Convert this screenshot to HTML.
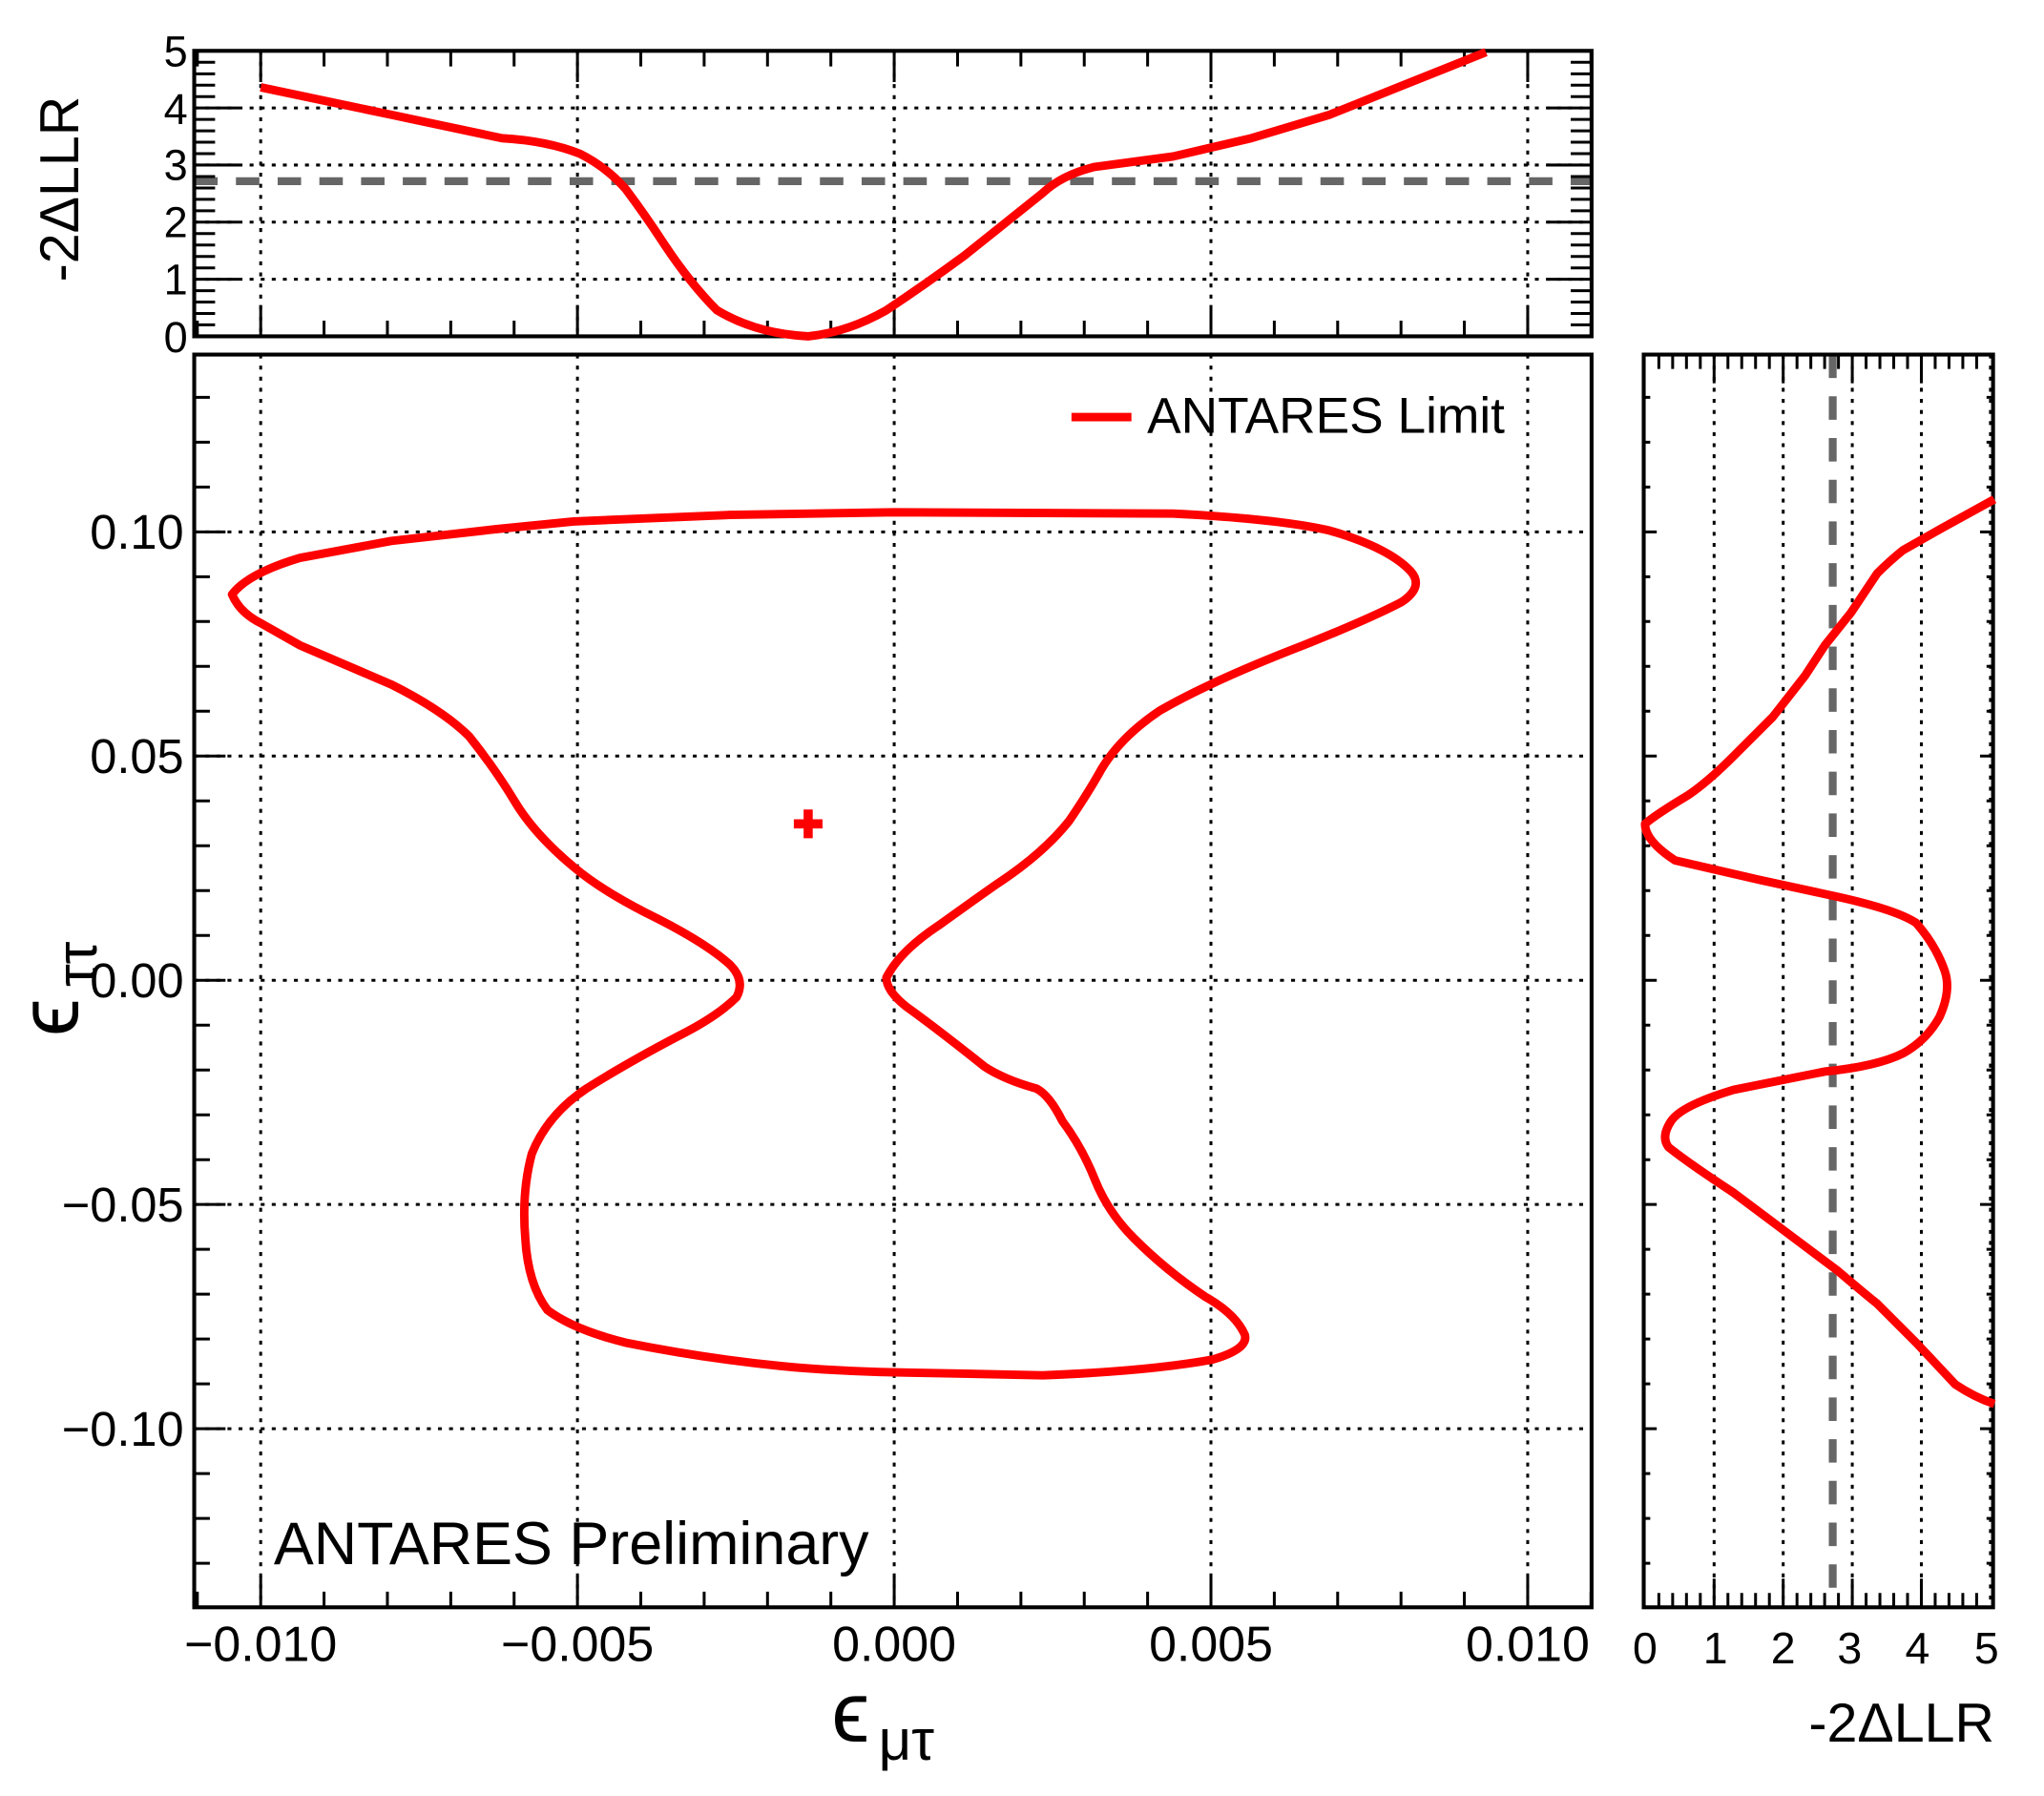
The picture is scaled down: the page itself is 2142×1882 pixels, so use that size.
<!DOCTYPE html>
<html><head><meta charset="utf-8"><style>
html,body{margin:0;padding:0;background:#fff;}
svg{display:block;}
text{font-family:"Liberation Sans",sans-serif;fill:#000;}
</style></head><body>
<svg width="2142" height="1882" viewBox="0 0 2142 1882" xmlns="http://www.w3.org/2000/svg">
<g transform="scale(1.366)">
<!-- ========== TOP PANEL ========== -->
<g stroke="#000" stroke-width="2.2" stroke-dasharray="3,5.5" fill="none">
<path d="M149 214.2H1221M149 170.4H1221M149 126.6H1221M149 82.8H1221"/>
<path d="M200 39V258M443 39V258M686 39V258M929 39V258M1172 39V258"/>
</g>
<line x1="149" y1="139" x2="1221" y2="139" stroke="#666" stroke-width="6" stroke-dasharray="18,14"/>
<g stroke="#000" stroke-width="2.2" fill="none">
<path d="M151.4 258v-12M200 258v-24M248.6 258v-12M297.2 258v-12M345.8 258v-12M394.4 258v-12M443 258v-24M491.6 258v-12M540.2 258v-12M588.8 258v-12M637.4 258v-12M686 258v-24M734.6 258v-12M783.2 258v-12M831.8 258v-12M880.4 258v-12M929 258v-24M977.6 258v-12M1026.2 258v-12M1074.8 258v-12M1123.4 258v-12M1172 258v-24M1220.6 258v-12"/>
<path d="M151.4 39v12M200 39v24M248.6 39v12M297.2 39v12M345.8 39v12M394.4 39v12M443 39v24M491.6 39v12M540.2 39v12M588.8 39v12M637.4 39v12M686 39v24M734.6 39v12M783.2 39v12M831.8 39v12M880.4 39v12M929 39v24M977.6 39v12M1026.2 39v12M1074.8 39v12M1123.4 39v12M1172 39v24M1220.6 39v12"/>
<path d="M149 249.2h16M149 240.5h16M149 231.7h16M149 223h16M149 214.2h34M149 205.5h16M149 196.7h16M149 188h16M149 179.2h16M149 170.4h34M149 161.7h16M149 152.9h16M149 144.2h16M149 135.4h16M149 126.6h34M149 117.9h16M149 109.1h16M149 100.4h16M149 91.6h16M149 82.8h34M149 74.1h16M149 65.3h16M149 56.6h16M149 47.8h16"/>
<path d="M1221 249.2h-16M1221 240.5h-16M1221 231.7h-16M1221 223h-16M1221 214.2h-34M1221 205.5h-16M1221 196.7h-16M1221 188h-16M1221 179.2h-16M1221 170.4h-34M1221 161.7h-16M1221 152.9h-16M1221 144.2h-16M1221 135.4h-16M1221 126.6h-34M1221 117.9h-16M1221 109.1h-16M1221 100.4h-16M1221 91.6h-16M1221 82.8h-34M1221 74.1h-16M1221 65.3h-16M1221 56.6h-16M1221 47.8h-16"/>
</g>
<rect x="149" y="39" width="1072" height="219" fill="none" stroke="#000" stroke-width="3"/>
<path d="M200 67 L300 88 L385 106 Q420 108 445 118 Q465 128 480 145 Q495 165 510 188 Q530 218 550 238 Q580 256 620 258 Q650 255 680 238 Q710 218 740 196 Q770 172 800 148 Q815 134 840 128 L900 120 L960 106 L1020 88 L1080 64 L1140 40" fill="none" stroke="#f00" stroke-width="6.5" stroke-linejoin="round"/>
<g font-size="33" text-anchor="end">
<text x="144" y="270">0</text><text x="144" y="226">1</text><text x="144" y="182">2</text><text x="144" y="138">3</text><text x="144" y="95">4</text><text x="144" y="51">5</text>
</g>
<text transform="translate(60,145) rotate(-90)" font-size="42" text-anchor="middle">-2ΔLLR</text>

<!-- ========== MAIN PANEL ========== -->
<g stroke="#000" stroke-width="2.2" stroke-dasharray="3,5.5" fill="none">
<path d="M200 272V1233M443 272V1233M686 272V1233M929 272V1233M1172 272V1233"/>
<path d="M149 408H1221M149 580H1221M149 752H1221M149 924H1221M149 1096H1221"/>
</g>
<g stroke="#000" stroke-width="2.2" fill="none">
<path d="M151.4 1233v-12M200 1233v-24M248.6 1233v-12M297.2 1233v-12M345.8 1233v-12M394.4 1233v-12M443 1233v-24M491.6 1233v-12M540.2 1233v-12M588.8 1233v-12M637.4 1233v-12M686 1233v-24M734.6 1233v-12M783.2 1233v-12M831.8 1233v-12M880.4 1233v-12M929 1233v-24M977.6 1233v-12M1026.2 1233v-12M1074.8 1233v-12M1123.4 1233v-12M1172 1233v-24M1220.6 1233v-12"/>
<path d="M149 1199.2h12M149 1164.8h12M149 1130.4h12M149 1096h24M149 1061.6h12M149 1027.2h12M149 992.8h12M149 958.4h12M149 924h24M149 889.6h12M149 855.2h12M149 820.8h12M149 786.4h12M149 752h24M149 717.6h12M149 683.2h12M149 648.8h12M149 614.4h12M149 580h24M149 545.6h12M149 511.2h12M149 476.8h12M149 442.4h12M149 408h24M149 373.6h12M149 339.2h12M149 304.8h12"/>
</g>
<rect x="149" y="272" width="1072" height="961" fill="none" stroke="#000" stroke-width="3"/>
<path d="M686 393 L560 395 L440 400 L380 406 L300 415 L230 428 Q190 440 178 456 Q184 470 200 478 L230 495 L300 525 Q340 545 360 565 Q380 590 395 615 Q410 640 440 665 Q460 682 495 700 Q540 722 560 740 Q572 752 565 765 Q550 780 520 795 Q480 816 450 835 Q420 855 408 885 Q400 915 403 950 Q405 985 420 1005 Q440 1020 480 1030 Q540 1042 600 1048 Q640 1052 700 1053 L800 1055 Q880 1052 930 1043 Q958 1035 955 1024 Q948 1008 925 995 Q895 975 870 950 Q850 930 840 905 Q830 880 815 860 Q805 840 795 835 Q770 828 755 818 Q720 790 695 772 Q680 760 680 750 Q690 730 720 710 Q745 692 765 678 Q800 655 820 630 Q835 608 845 590 Q860 565 890 545 Q930 522 1000 495 Q1050 475 1075 462 Q1093 450 1082 438 Q1065 420 1020 407 Q980 398 900 394 L686 393 Z" fill="none" stroke="#f00" stroke-width="6.5" stroke-linejoin="round"/>
<path d="M609 632H631M620 621V643" stroke="#f00" stroke-width="7"/>
<line x1="822" y1="320" x2="868" y2="320" stroke="#f00" stroke-width="6.5"/>
<text x="880" y="332" font-size="39">ANTARES Limit</text>
<text x="210" y="1200" font-size="46">ANTARES Preliminary</text>
<g font-size="37" text-anchor="end">
<text x="141" y="421">0.10</text><text x="141" y="593">0.05</text><text x="141" y="765">0.00</text><text x="141" y="937">−0.05</text><text x="141" y="1109">−0.10</text>
</g>
<g font-size="38" text-anchor="middle">
<text x="200" y="1274">−0.010</text><text x="443" y="1274">−0.005</text><text x="686" y="1274">0.000</text><text x="929" y="1274">0.005</text><text x="1172" y="1274">0.010</text>
</g>
<text x="638" y="1336" font-size="66">ϵ</text><text x="674" y="1350" font-size="44">μτ</text>
<text transform="translate(60,795) rotate(-90)" font-size="66">ϵ</text>
<text transform="translate(74,757) rotate(-90)" font-size="44">ττ</text>

<!-- ========== RIGHT PANEL ========== -->
<g stroke="#000" stroke-width="2.2" stroke-dasharray="3,5.5" fill="none">
<path d="M1315 272V1233M1368 272V1233M1421 272V1233M1474 272V1233M1527 272V1233"/>
</g>
<line x1="1406" y1="272" x2="1406" y2="1233" stroke="#666" stroke-width="6" stroke-dasharray="18,14"/>
<g stroke="#000" stroke-width="2.2" fill="none">
<path d="M1272.6 1233v-11M1283.2 1233v-11M1293.8 1233v-11M1304.4 1233v-11M1315 1233v-22M1325.6 1233v-11M1336.2 1233v-11M1346.8 1233v-11M1357.4 1233v-11M1368 1233v-22M1378.6 1233v-11M1389.2 1233v-11M1399.8 1233v-11M1410.4 1233v-11M1421 1233v-22M1431.6 1233v-11M1442.2 1233v-11M1452.8 1233v-11M1463.4 1233v-11M1474 1233v-22M1484.6 1233v-11M1495.2 1233v-11M1505.8 1233v-11M1516.4 1233v-11"/>
<path d="M1272.6 272v11M1283.2 272v11M1293.8 272v11M1304.4 272v11M1315 272v22M1325.6 272v11M1336.2 272v11M1346.8 272v11M1357.4 272v11M1368 272v22M1378.6 272v11M1389.2 272v11M1399.8 272v11M1410.4 272v11M1421 272v22M1431.6 272v11M1442.2 272v11M1452.8 272v11M1463.4 272v11M1474 272v22M1484.6 272v11M1495.2 272v11M1505.8 272v11M1516.4 272v11"/>
<path d="M1261 1199.2h5M1261 1164.8h5M1261 1130.4h5M1261 1096h10M1261 1061.6h5M1261 1027.2h5M1261 992.8h5M1261 958.4h5M1261 924h10M1261 889.6h5M1261 855.2h5M1261 820.8h5M1261 786.4h5M1261 752h10M1261 717.6h5M1261 683.2h5M1261 648.8h5M1261 614.4h5M1261 580h10M1261 545.6h5M1261 511.2h5M1261 476.8h5M1261 442.4h5M1261 408h10M1261 373.6h5M1261 339.2h5M1261 304.8h5"/>
<path d="M1529 1199.2h-5M1529 1164.8h-5M1529 1130.4h-5M1529 1096h-10M1529 1061.6h-5M1529 1027.2h-5M1529 992.8h-5M1529 958.4h-5M1529 924h-10M1529 889.6h-5M1529 855.2h-5M1529 820.8h-5M1529 786.4h-5M1529 752h-10M1529 717.6h-5M1529 683.2h-5M1529 648.8h-5M1529 614.4h-5M1529 580h-10M1529 545.6h-5M1529 511.2h-5M1529 476.8h-5M1529 442.4h-5M1529 408h-10M1529 373.6h-5M1529 339.2h-5M1529 304.8h-5"/>
</g>
<rect x="1261" y="272" width="268" height="961" fill="none" stroke="#000" stroke-width="3"/>
<path d="M1530 383 L1490 405 L1460 422 Q1450 430 1440 440 L1420 470 L1400 495 L1385 518 L1360 550 L1330 580 Q1310 600 1295 610 Q1270 625 1262 632 Q1262 645 1285 660 L1350 675 L1410 688 Q1455 698 1470 708 Q1485 725 1492 745 Q1497 760 1488 780 Q1478 798 1460 808 Q1440 818 1400 822 L1330 836 Q1290 848 1282 860 Q1274 872 1280 880 Q1295 892 1330 915 L1370 945 L1410 975 Q1430 992 1440 1000 L1470 1030 L1500 1062 Q1515 1072 1530 1077" fill="none" stroke="#f00" stroke-width="6.5" stroke-linejoin="round"/>
<g font-size="34" text-anchor="middle">
<text x="1262" y="1276">0</text><text x="1316" y="1276">1</text><text x="1368" y="1276">2</text><text x="1419" y="1276">3</text><text x="1471" y="1276">4</text><text x="1524" y="1276">5</text>
</g>
<text x="1530" y="1336" font-size="42" text-anchor="end">-2ΔLLR</text>
</g>
</svg>
</body></html>
